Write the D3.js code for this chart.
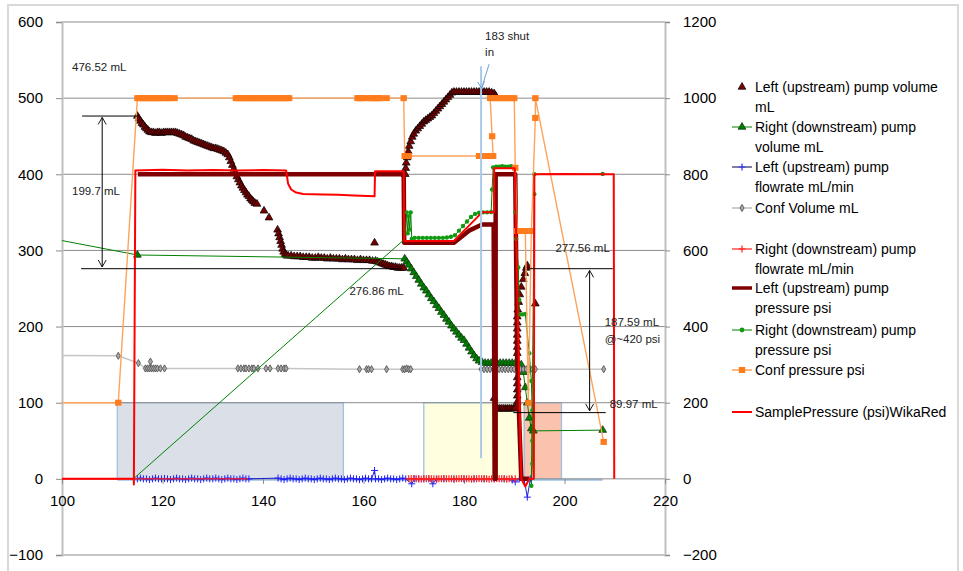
<!DOCTYPE html>
<html><head><meta charset="utf-8">
<script src="https://cdn.jsdelivr.net/npm/d3@7"></script>
<style>body{margin:0;background:#fff}text{font-family:"Liberation Sans",Arial,sans-serif}</style>
</head><body>
<svg id="c" width="963" height="571"></svg>
<script>
// ---------------- DATA ----------------
const xTicks = [100,120,140,160,180,200,220];
const yLeftTicks = [-100,0,100,200,300,400,500,600];
const yRightTicks = [-200,0,200,400,600,800,1000,1200];

const legendLabels = [
  ["Left (upstream) pump volume","mL"],
  ["Right (downstream) pump","volume mL"],
  ["Left (upstream) pump","flowrate mL/min"],
  ["Conf Volume mL"],
  ["Right (downstream) pump","flowrate mL/min"],
  ["Left (upstream) pump","pressure psi"],
  ["Right (downstream) pump","pressure psi"],
  ["Conf pressure  psi"],
  ["SamplePressure (psi)WikaRed"]
];

// left axis series [x, value]
const leftPumpVolume = [[115,476.5],[115.3,473],[115.6,470],[115.9,467],[116.2,465],[116.5,462],[116.8,460],[117.1,458],[117.4,456],[117.8,455],[118.2,455],[118.6,454],[119.0,455],[119.4,455],[119.8,454],[120.2,455],[120.6,455],[121.0,455],[121.4,455],[121.8,455],[122.2,455],[122.6,455],[123.0,454],[123.4,453],[123.8,452],[124.2,451],[124.6,449],[125.0,448],[125.4,447],[125.8,446],[126.2,444],[126.6,443],[127.0,442],[127.4,441],[127.8,440],[128.2,439],[128.6,438],[129.0,437],[129.4,436],[129.8,435],[130.2,434],[130.6,434],[131.0,433],[131.4,432],[131.8,431],[132.2,430],[132.6,428],[133.0,426],[133.3,422],[133.6,417],[133.9,412],[134.2,407],[134.5,402],[134.8,397],[135.1,393],[135.4,389],[135.7,385],[136.0,382],[136.3,379],[136.6,376],[136.9,373],[137.2,371],[137.5,368],[137.8,366],[138.1,364],[138.4,362],[138.8,361],[140.2,352],[141.2,343],[142.9,327],[143.1,322],[143.3,317],[143.5,312],[143.7,307],[143.9,302],[144.1,298],[144.4,295],[144.7,293],[145.0,293],[145.6,293],[146.2,292],[146.8,292],[147.4,292],[148.0,291],[148.6,291],[149.2,291],[149.8,290],[150.4,290],[151.0,291],[151.6,290],[152.2,290],[152.8,289],[153.4,290],[154.0,289],[154.6,289],[155.2,289],[155.8,288],[156.4,289],[157.0,288],[157.6,288],[158.2,288],[158.8,287],[159.4,288],[160.0,287],[160.6,287],[161.2,287],[161.8,286],[162.2,310],[162.4,286],[162.8,285],[163.2,284],[163.6,283],[164.0,282],[164.4,281],[164.8,280],[165.2,279],[165.6,279],[166.0,278],[166.4,278],[166.8,277],[167.2,277],[167.6,277],[168.0,276.9],[168.3,400],[168.4,408],[168.5,415],[168.7,422],[168.9,430],[169.1,437],[169.4,443],[169.7,449],[170.0,453],[170.4,457],[170.8,460],[171.2,463],[171.6,466],[172.0,469],[172.4,471],[172.8,473],[173.2,475],[173.6,477],[174.0,480],[174.4,483],[174.8,486],[175.2,489],[175.6,492],[176.0,495],[176.4,498],[176.8,501],[177.2,504],[177.6,507],[178.0,508],[178.5,508],[179.0,508],[179.5,508],[180.0,508],[180.5,508],[181.0,508],[181.5,508],[182.0,508],[182.5,508],[183.0,508],[183.5,508],[184.0,508],[184.5,508],[185.0,508],[185.5,507],[186.0,506],[186.3,503],[186.0,106],[186.6,92],[187.0,92],[187.4,92],[187.8,92],[188.2,92],[188.6,92],[189.0,92],[189.4,92],[189.8,92],[190.2,93],[190.6,101],[190.6,109],[190.6,117],[190.6,125],[190.6,133],[190.6,165],[190.6,173],[190.6,181],[190.6,189],[190.6,197],[190.6,205],[190.6,213],[190.7,222],[190.9,232],[191.1,242],[191.4,252],[191.8,262],[192.1,270],[192.4,277],[192.6,280],[194.2,230]];

const rightPumpVolume = [[96,318],[115,294],[168.2,289],[168.6,285],[169.0,281],[169.5,276],[170.0,271],[170.5,266],[171.0,261],[171.5,256],[172.0,251],[172.5,247],[173.0,242],[173.5,237],[174.0,233],[174.5,228],[175.0,224],[175.5,219],[176.0,215],[176.5,210],[177.0,206],[177.5,201],[178.0,197],[178.5,193],[179.0,189],[179.5,185],[180.0,182],[180.5,177],[181.0,172],[181.5,167],[182.0,162],[182.5,158],[183.0,155],[183.6,153],[184.2,152],[184.8,152],[185.4,152],[186.0,152],[186.6,152],[187.2,152],[187.8,152],[188.4,152],[189.0,152],[189.6,152],[190.2,152],[190.8,151],[191.4,150],[191.8,140],[192.2,120],[192.6,100],[193.0,80],[193.4,66],[193.8,63],[207.6,64]];

const confVolume = [[95,162],[111.2,161.6],[115.2,152],[116.6,145],[117.0,145],[117.4,145],[117.6,154],[117.8,145],[118.2,145],[118.6,145],[119.0,145],[119.6,145],[120.4,145],[135.0,145],[135.6,145],[136.2,145],[136.6,145],[137.2,145],[137.8,145],[138.2,145],[139.0,145],[140.6,145],[141.4,145],[143.0,145],[143.6,145],[144.2,145],[144.6,145],[159.2,144],[160.6,144],[161.0,144],[161.6,144],[164.6,144],[167.8,144],[168.2,144],[168.6,145],[169.0,144],[169.4,144],[183.4,144],[184.0,144],[184.6,144],[185.2,144],[185.8,144],[186.4,144],[187.0,144],[187.6,144],[188.2,144],[188.8,144],[189.4,144],[190.0,144],[190.6,144],[191.2,144],[191.8,144],[192.4,144],[193.0,144],[193.6,144],[194.2,144],[207.8,144]];

// right axis series [x, value]
const leftPumpFlow = [[115,0],[115.6,2],[116.2,0],[116.8,0],[117.4,-2],[118,0],[118.6,2],[119.2,0],[119.8,0],[120.4,1],[121,0],[121.6,-2],[122.2,0],[122.8,2],[123.4,0],[124,0],[124.6,-2],[125.2,0],[125.8,2],[126.4,0],[127,0],[127.6,-2],[128.2,0],[128.8,2],[129.4,0],[130,0],[130.6,2],[131.2,0],[131.8,-2],[132.4,0],[133,2],[133.6,0],[134.2,0],[134.8,-2],[135.4,0],[136,2],[136.6,0],[137.2,0],[143,2],[143.6,0],[144.2,-2],[144.8,0],[145.4,2],[146,0],[146.6,0],[147.2,-2],[147.8,0],[148.4,2],[149,0],[149.6,0],[150.2,-2],[150.8,0],[151.4,2],[152,0],[152.6,0],[153.2,-2],[153.8,0],[154.4,2],[155,0],[155.6,0],[156.2,-2],[156.8,0],[157.4,2],[158,0],[158.6,0],[159.2,-2],[159.8,0],[160.4,2],[161,0],[161.6,0],[162.2,22],[162.4,0],[163,0],[163.6,-2],[164.2,0],[164.8,2],[165.4,0],[166,0],[166.6,-2],[167.2,0],[167.8,2],[168.4,0],[169.6,-13],[170.2,0],[171,0],[172,0],[173,0],[173.8,-13],[174.6,0],[176,0],[178,0],[180,0],[182,0],[184,0],[186,0],[188,0],[189.6,-3],[190.2,-8],[191,0],[192,-4],[192.6,-48],[193.2,0]];

const rightPumpFlow = [[95,0],[137,0],null,[169,0],[169.5,0],[170,1],[170.5,0],[171,0],[171.5,-1],[172,0],[172.5,0],[173,1],[173.5,0],[174,0],[174.5,-1],[175,0],[175.5,0],[176,1],[176.5,0],[177,0],[177.5,0],[178,-1],[178.5,0],[179,0],[179.5,1],[180,0],[180.5,0],[181,0],[181.5,-1],[182,0],[182.5,0],[183,1],[183.5,0],[184,0],[184.5,0],[185,-1],[185.5,0],[186,0],[186.5,1],[187,0],[187.5,0],[188,0],[188.5,-1],[189,0],[189.5,0],[190.2,0]];

const leftPumpPressure = [[115.1,800],[168.0,800],[168.1,620],[178.0,620],[181.0,652],[183.6,668],[185.9,668],[186.1,0],[186.3,0],[186.3,800],[190.2,800],[190.6,300],[191.4,0],[193.0,0]];

const rightPumpPressure = [[114.2,0],[168.2,630],[168.6,700],[168.8,645],[169.0,690],[169.2,655],[169.4,700],[169.6,630],[170.2,633],[171.0,633],[171.8,633],[172.6,633],[173.4,633],[174.2,633],[175.0,633],[175.8,633],[176.6,634],[177.4,636],[178.2,640],[179.0,652],[179.8,664],[180.6,676],[181.4,688],[182.2,696],[183.0,699],[183.8,700],[184.6,700],[185.4,701],[185.6,760],[185.8,818],[186.4,820],[187.0,820],[187.6,821],[188.2,820],[188.8,820],[189.4,821],[190.0,818],[190.2,700],[190.4,630],[190.8,555],[191.0,470],[191.0,432],[191.6,432],[192.2,433],[193.0,330],[193.4,257],[193.6,180],[193.6,100],[193.6,40],[193.4,-18],[194.0,748],[194.0,800],[207.6,801]];

const confPressure = [[95,200],[111.2,200],[115.0,1000],[115.4,1000],[115.8,1000],[116.2,1000],[116.6,1000],[117.0,1000],[117.4,1000],[117.8,1000],[118.2,1000],[118.6,1000],[119.0,1000],[119.4,1000],[119.8,1000],[120.6,1000],[121.0,1000],[121.4,1000],[122.4,1000],[134.6,1000],[135.0,1000],[135.4,1000],[135.8,1000],[136.2,1000],[136.6,1000],[137.0,1000],[137.4,1000],[137.8,1000],[138.2,1000],[138.6,1000],[139.0,1000],[139.4,1000],[139.8,1000],[140.2,1000],[140.6,1000],[141.0,1000],[141.4,1000],[142.0,1000],[142.4,1000],[142.8,1000],[143.2,1000],[143.6,1000],[144.0,1000],[144.4,1000],[144.8,1000],[145.2,1000],[158.8,1000],[159.2,1000],[159.6,1000],[160.0,1000],[161.0,1000],[161.4,1000],[161.8,1000],[162.2,1000],[162.6,1000],[163.0,1000],[163.4,1000],[164.6,1000],[168.0,1000],[168.2,848],[168.6,848],[169.0,848],[183.0,848],[183.4,848],[183.8,848],[184.2,848],[184.6,848],[185.0,848],[185.4,848],[185.8,848],[185.6,900],[185.2,1000],[185.8,1000],[186.4,1000],[187.0,1000],[187.6,1000],[188.2,1000],[188.8,1000],[189.4,1000],[190.0,1000],[190.2,817],[190.6,651],[191.0,651],[191.4,651],[191.8,651],[192.2,651],[192.8,200],[193.4,651],[194.2,948],[194.2,1000],[207.8,97]];

const samplePressure = [[95,0],[114.3,0],[114.3,-15],[114.6,810],[120,812],[125,810],[130,811],[135,810],[140,811],[144.6,810],[145.0,775],[145.6,760],[146.6,752],[148,748],[152,747],[155,746],[158,744],[162.2,742],[162.3,808],[168.0,808],[168.1,625],[178.0,625],[180.6,660],[183.6,700],[186.0,700],[186.0,816],[190.1,816],[191.4,0],[192.2,-20],[193.0,0],[193.9,0],[194.0,800],[200,801],[205,800],[209.8,800],[209.9,0]];

// shaded background regions (left axis values)
const shadeStart = [111.0, 172.0, 192.0];
const shadeEnd   = [156.0, 192.0, 199.4];
const shadeTop   = [100, 100, 100];
const shadeBaseline = [[111,0],[207.6,0]];

// "183 shut in" marker
const shutInX = 183.4, shutInFrom = 542, shutInTo = 27;

// annotations (left axis units)
const annotations = [
  {text:"476.52 mL", x:102, v:536},
  {text:"199.7 mL", x:102, v:373},
  {text:"276.86 mL", x:157.2, v:241},
  {text:"277.56 mL", x:198.2, v:298},
  {text:"187.59 mL", x:208, v:201},
  {text:"@~420 psi", x:208, v:179},
  {text:"89.97 mL", x:209, v:93},
  {text:"183 shut", x:184.2, v:576},
  {text:"in", x:184.2, v:556}
];
const hLines = [ {x0:104, x1:115, v:476.5}, {x0:103.8, x1:167.6, v:276}, {x0:193, x1:209.6, v:276}, {x0:189.8, x1:208.2, v:87} ];
const dblArrows = [ {x:108, v0:476, v1:277}, {x:205, v0:275, v1:88} ];

// ---------------- DRAW ----------------
const svg = d3.select('#c');
svg.append('rect').attr('x',8).attr('y',5).attr('width',950).attr('height',600)
  .attr('fill','#fff').attr('stroke','#d9d9d9').attr('stroke-width',2);

const x = d3.scaleLinear().domain([100,220]).range([62,665]);
const yL = d3.scaleLinear().domain([-100,600]).range([555,22]);
const yR = d3.scaleLinear().domain([-200,1200]).range([555,22]);

svg.append('clipPath').attr('id','pc').append('rect')
  .attr('x',62).attr('y',22).attr('width',603).attr('height',533);

// shaded regions
const shadeFill = ['#dbe0e8','#ffffe0','#fbc2ae'];
const gShade = svg.append('g');
shadeStart.forEach((s,i)=>{
  gShade.append('rect').attr('x',x(s)).attr('y',yL(shadeTop[i]))
    .attr('width',x(shadeEnd[i])-x(s)).attr('height',yL(0)-yL(shadeTop[i]))
    .attr('fill',shadeFill[i]).attr('stroke','#9fc0e0').attr('stroke-width',1.3);
});
gShade.append('path').datum(shadeBaseline)
  .attr('d',d3.line().x(d=>x(d[0])).y(d=>yL(d[1])+1))
  .attr('stroke','#9fc0e0').attr('stroke-width',2).attr('fill','none');

// gridlines
svg.append('g').selectAll('line').data(yLeftTicks).join('line')
  .attr('x1',62).attr('x2',665).attr('y1',d=>yL(d)).attr('y2',d=>yL(d))
  .attr('stroke','#8c8c8c').attr('stroke-width',1);

// axes
const axL = svg.append('g').attr('transform','translate(62,0)')
  .call(d3.axisLeft(yL).tickValues(yLeftTicks).tickSize(6).tickPadding(13).tickFormat(d3.format('d')));
const axR = svg.append('g').attr('transform','translate(665,0)')
  .call(d3.axisRight(yR).tickValues(yRightTicks).tickSize(5).tickPadding(13).tickFormat(d3.format('d')));
const axB = svg.append('g').attr('transform',`translate(0,${yL(0)})`)
  .call(d3.axisBottom(x).tickValues(xTicks).tickSize(5).tickPadding(12).tickFormat(d3.format('d')));
[axL,axR,axB].forEach(a=>{
  a.selectAll('text').attr('font-size','15px').attr('fill','#000')
   .attr('font-family','"Liberation Sans",Arial,sans-serif');
  a.selectAll('.tick line').attr('stroke','#8c8c8c');
});
axL.select('.domain').attr('stroke','#c0c0c0').attr('stroke-width',2);
axR.select('.domain').attr('stroke','#c0c0c0').attr('stroke-width',2);
axB.select('.domain').remove();

// series
const g = svg.append('g').attr('clip-path','url(#pc)');
const lineGen = ys => d3.line().defined(d=>d!=null).x(d=>x(d[0])).y(d=>ys(d[1]));
function drawLine(data, ys, color, w){
  g.append('path').datum(data).attr('d',lineGen(ys)).attr('fill','none')
   .attr('stroke',color).attr('stroke-width',w).attr('stroke-linejoin','round');
}
const tri = d3.symbol(d3.symbolTriangle, 26)();
const dia = d3.symbol(d3.symbolDiamond, 15)();
const plus = 'M-3.5,0H3.5M0,-3.5V3.5';
function drawMarks(data, ys, path, fill, stroke, sw){
  g.append('g').selectAll('path').data(data.filter(d=>d)).join('path')
   .attr('transform',d=>`translate(${x(d[0])},${ys(d[1])})`)
   .attr('d',path).attr('fill',fill).attr('stroke',stroke).attr('stroke-width',sw);
}

// 1 left pump volume (markers only)
drawMarks(leftPumpVolume, yL, tri, '#7a0000', '#000', 0.7);
// 2 right pump volume
drawLine(rightPumpVolume, yL, '#008000', 1);
drawMarks(rightPumpVolume.slice(1), yL, tri, '#008000', '#0a2a0a', 0.7);
// 3 left pump flowrate
drawLine(leftPumpFlow, yR, '#1f1fd0', 1);
drawMarks(leftPumpFlow, yR, plus, 'none', '#2020ff', 1);
// 4 conf volume
drawLine(confVolume, yL, '#c6c6c6', 1.5);
drawMarks(confVolume.slice(1), yL, dia, '#a6a6a6', '#4a4a4a', 0.8);
// 5 right pump flowrate
drawLine(rightPumpFlow, yR, '#ff2020', 1.2);
drawMarks(rightPumpFlow.slice(3), yR, plus, 'none', '#ff2020', 1.2);
// 6 left pump pressure
drawLine(leftPumpPressure, yR, '#7f0000', 4.5);
// 7 right pump pressure
drawLine(rightPumpPressure, yR, '#008000', 1);
g.append('g').selectAll('circle').data(rightPumpPressure.slice(2)).join('circle')
  .attr('cx',d=>x(d[0])).attr('cy',d=>yR(d[1])).attr('r',2.2).attr('fill','#139a13');
// 8 conf pressure
drawLine(confPressure, yR, '#fda35b', 1.4);
g.append('g').selectAll('rect').data(confPressure.slice(1)).join('rect')
  .attr('x',d=>x(d[0])-3.2).attr('y',d=>yR(d[1])-3).attr('width',6.4).attr('height',6)
  .attr('fill','#ff7c1c');
// 9 sample pressure
drawLine(samplePressure, yR, '#ff0000', 2);

// shut-in line
svg.append('line').attr('x1',x(shutInX)).attr('x2',x(shutInX))
  .attr('y1',yL(shutInFrom)).attr('y2',yL(shutInTo))
  .attr('stroke','#a9c9e8').attr('stroke-width',2);
const ax0 = x(shutInX)+8, ay0 = yL(shutInFrom)-2, ax1 = x(shutInX)+0.5, ay1 = yL(shutInFrom)+22;
svg.append('line').attr('x1',ax0).attr('y1',ay0).attr('x2',ax1).attr('y2',ay1)
  .attr('stroke','#6fa2d6').attr('stroke-width',1);
svg.append('path').attr('d',`M${ax1-4},${ay1-6}L${ax1},${ay1}L${ax1+3},${ay1-7}`)
  .attr('fill','none').attr('stroke','#6fa2d6').attr('stroke-width',1);

// annotations
const gA = svg.append('g');
hLines.forEach(l=>gA.append('line').attr('x1',x(l.x0)).attr('x2',x(l.x1))
  .attr('y1',yL(l.v)).attr('y2',yL(l.v)).attr('stroke','#000').attr('stroke-width',1));
dblArrows.forEach(a=>{
  const px=x(a.x), p0=yL(a.v0), p1=yL(a.v1);
  gA.append('line').attr('x1',px).attr('x2',px).attr('y1',p0+1).attr('y2',p1-1)
    .attr('stroke','#000').attr('stroke-width',1);
  gA.append('path').attr('d',`M${px-4},${p0+8}L${px},${p0+1}L${px+4},${p0+8}M${px-4},${p1-8}L${px},${p1-1}L${px+4},${p1-8}`)
    .attr('fill','none').attr('stroke','#000').attr('stroke-width',0.9);
});
annotations.forEach(a=>gA.append('text').attr('x',x(a.x)).attr('y',yL(a.v))
  .attr('font-size','11.5px').attr('fill','#222').text(a.text));

// legend
const legendY = [87,127,167,208,249,288,330,370,412];
const gL = svg.append('g');
legendLabels.forEach((lines,i)=>{
  const y0 = legendY[i];
  lines.forEach((t,j)=>gL.append('text').attr('x',755).attr('y',y0+5+j*19.5)
    .attr('font-size','14px').attr('fill','#000').text(t));
  const s = gL.append('g').attr('transform',`translate(742,${y0})`);
  const ln = (c,w)=>s.append('line').attr('x1',-10).attr('x2',10).attr('stroke',c).attr('stroke-width',w);
  if(i===0) s.append('path').attr('d',tri).attr('fill','#7a0000').attr('stroke','#000').attr('stroke-width',0.7);
  if(i===1){ ln('#008000',1); s.append('path').attr('d',tri).attr('fill','#008000').attr('stroke','#0a2a0a').attr('stroke-width',0.7); }
  if(i===2){ ln('#000040',1); s.append('path').attr('d',plus).attr('stroke','#3030ff').attr('stroke-width',1.2); }
  if(i===3){ ln('#bdbdbd',1.5); s.append('path').attr('d',dia).attr('fill','#a6a6a6').attr('stroke','#4a4a4a').attr('stroke-width',0.8); }
  if(i===4){ ln('#ff2020',1.2); s.append('path').attr('d',plus).attr('stroke','#ff2020').attr('stroke-width',1.2); }
  if(i===5){ ln('#7f0000',3.5); }
  if(i===6){ ln('#008000',1); s.append('circle').attr('r',2.4).attr('fill','#139a13'); }
  if(i===7){ ln('#ff8a30',1.2); s.append('rect').attr('x',-3.2).attr('y',-3).attr('width',6.4).attr('height',6).attr('fill','#ff7c1c'); }
  if(i===8){ ln('#ff0000',2); }
});
</script>
</body></html>
